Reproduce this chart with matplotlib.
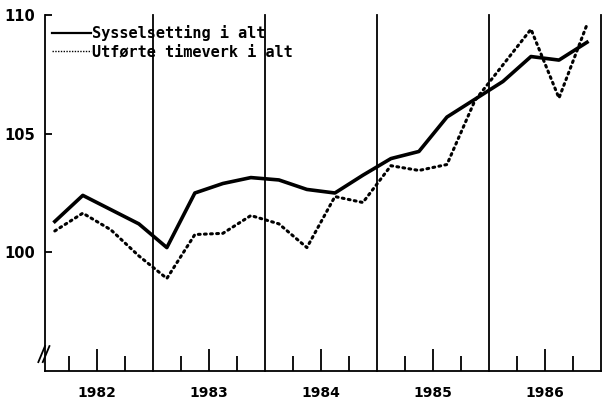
import matplotlib
matplotlib.use("Agg")
import matplotlib.pyplot as plt
from matplotlib.lines import Line2D
import numpy as np

years = ["1982", "1983", "1984", "1985", "1986"]
sysselsetting = [101.3, 102.4, 101.8, 101.2, 100.2, 102.5, 102.9, 103.15, 103.05, 102.65,
                 102.5, 103.25, 103.95, 104.25, 105.7, 106.45, 107.2, 108.25, 108.1, 108.85]
timeverk = [100.9, 101.65, 100.95, 99.85, 98.9, 100.75, 100.8, 101.55, 101.2, 100.2,
            102.35, 102.1, 103.65, 103.45, 103.7, 106.4, 107.9, 109.4, 106.5, 109.6]
label_a = "Sysselsetting i alt"
label_b = "Utførte timeverk i alt"

x = np.arange(len(sysselsetting)) + 0.5

fig = plt.figure(figsize=(6.04, 4.04), dpi=100)
ax = fig.add_axes([45/604, 33/404, 556/604, 356/404])

ax.plot(x, sysselsetting, color="black", lw=2.6, solid_joinstyle="round")
ax.plot(x, timeverk, color="black", lw=2.2, ls=(0, (0.6, 1.4)), dash_capstyle="round")

# year separators
for k in range(1, len(years) + 1):
    ax.axvline(4 * k, color="black", lw=1.3, clip_on=False)

ax.set_xlim(0.15, 20)
ax.set_ylim(95, 110)

ax.spines["top"].set_visible(False)
ax.spines["right"].set_visible(False)
ax.spines["left"].set_linewidth(1.3)
ax.spines["bottom"].set_linewidth(1.3)

ax.set_xticks([4 * i + 2 for i in range(len(years))])
ax.set_xticklabels(years, fontweight="bold", fontsize=10)
ax.set_xticks([4 * i + q for i in range(len(years)) for q in (1, 3)], minor=True)
ax.tick_params(axis="x", which="major", direction="in", length=16, width=1.3, pad=11)
ax.tick_params(axis="x", which="minor", direction="in", length=11, width=1.3)

ax.set_yticks([100, 105, 110])
ax.set_yticklabels(["100", "105", "110"], fontweight="bold", fontsize=10.5)
ax.tick_params(axis="y", direction="in", length=5, width=1.3, pad=7)

# axis break marks
for dx in (0, 0.008):
    ax.plot([-0.012 + dx, 0.0 + dx], [0.025, 0.07], transform=ax.transAxes,
            color="black", lw=1.3, clip_on=False)

handles = [Line2D([], [], color="black", lw=1.6),
           Line2D([], [], color="black", lw=1.0, ls=(0, (1, 1)))]
leg = ax.legend(handles, [label_a, label_b], loc="upper left",
                bbox_to_anchor=(0.012, 0.972), frameon=False, borderpad=0,
                borderaxespad=0, handlelength=2.6, handletextpad=0.05,
                labelspacing=0.25,
                prop={"family": "DejaVu Sans Mono", "weight": "bold", "size": 11})

plt.savefig("out.png", dpi=100)
